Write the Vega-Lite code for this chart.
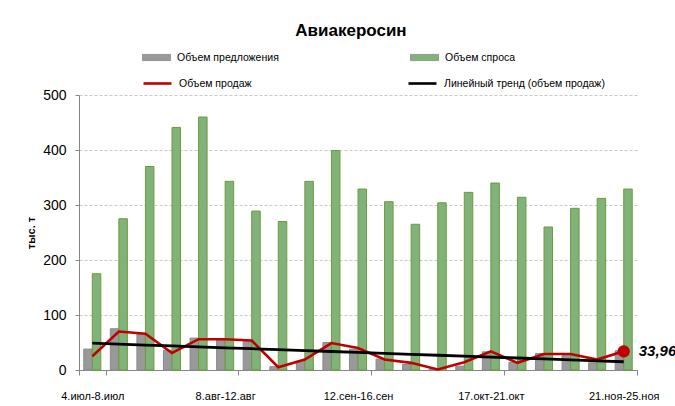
{
  "$schema": "https://vega.github.io/schema/vega-lite/v6.json",
  "width": 558,
  "height": 275,
  "autosize": {"type": "none"},
  "padding": {"left": 79, "top": 95, "right": 38, "bottom": 36},
  "background": "white",
  "title": {"text": "Авиакеросин", "font": "Liberation Sans", "fontSize": 17, "fontWeight": "bold", "color": "#000000", "anchor": "middle", "frame": "bounds", "offset": 3},
  "datasets": {
    "bars": [
      {"week": "4.июл-8.июл", "series": "Объем предложения", "value": 38},
      {"week": "4.июл-8.июл", "series": "Объем спроса", "value": 175},
      {"week": "11.июл-15.июл", "series": "Объем предложения", "value": 75},
      {"week": "11.июл-15.июл", "series": "Объем спроса", "value": 275},
      {"week": "18.июл-22.июл", "series": "Объем предложения", "value": 65},
      {"week": "18.июл-22.июл", "series": "Объем спроса", "value": 370},
      {"week": "25.июл-29.июл", "series": "Объем предложения", "value": 36},
      {"week": "25.июл-29.июл", "series": "Объем спроса", "value": 441},
      {"week": "1.авг-5.авг", "series": "Объем предложения", "value": 58},
      {"week": "1.авг-5.авг", "series": "Объем спроса", "value": 460},
      {"week": "8.авг-12.авг", "series": "Объем предложения", "value": 55},
      {"week": "8.авг-12.авг", "series": "Объем спроса", "value": 343},
      {"week": "15.авг-19.авг", "series": "Объем предложения", "value": 52},
      {"week": "15.авг-19.авг", "series": "Объем спроса", "value": 289},
      {"week": "22.авг-26.авг", "series": "Объем предложения", "value": 6},
      {"week": "22.авг-26.авг", "series": "Объем спроса", "value": 270},
      {"week": "29.авг-2.сен", "series": "Объем предложения", "value": 16},
      {"week": "29.авг-2.сен", "series": "Объем спроса", "value": 343},
      {"week": "5.сен-9.сен", "series": "Объем предложения", "value": 50},
      {"week": "5.сен-9.сен", "series": "Объем спроса", "value": 399},
      {"week": "12.сен-16.сен", "series": "Объем предложения", "value": 38},
      {"week": "12.сен-16.сен", "series": "Объем спроса", "value": 329},
      {"week": "19.сен-23.сен", "series": "Объем предложения", "value": 20},
      {"week": "19.сен-23.сен", "series": "Объем спроса", "value": 306},
      {"week": "26.сен-30.сен", "series": "Объем предложения", "value": 10},
      {"week": "26.сен-30.сен", "series": "Объем спроса", "value": 265},
      {"week": "3.окт-7.окт", "series": "Объем предложения", "value": 2},
      {"week": "3.окт-7.окт", "series": "Объем спроса", "value": 304},
      {"week": "10.окт-14.окт", "series": "Объем предложения", "value": 7},
      {"week": "10.окт-14.окт", "series": "Объем спроса", "value": 323},
      {"week": "17.окт-21.окт", "series": "Объем предложения", "value": 33},
      {"week": "17.окт-21.окт", "series": "Объем спроса", "value": 340},
      {"week": "24.окт-28.окт", "series": "Объем предложения", "value": 14},
      {"week": "24.окт-28.окт", "series": "Объем спроса", "value": 314},
      {"week": "31.окт-4.ноя", "series": "Объем предложения", "value": 30},
      {"week": "31.окт-4.ноя", "series": "Объем спроса", "value": 260},
      {"week": "7.ноя-11.ноя", "series": "Объем предложения", "value": 26},
      {"week": "7.ноя-11.ноя", "series": "Объем спроса", "value": 294},
      {"week": "14.ноя-18.ноя", "series": "Объем предложения", "value": 13},
      {"week": "14.ноя-18.ноя", "series": "Объем спроса", "value": 312},
      {"week": "21.ноя-25.ноя", "series": "Объем предложения", "value": 35},
      {"week": "21.ноя-25.ноя", "series": "Объем спроса", "value": 329}
    ],
    "sales": [
      {"week": "4.июл-8.июл", "sales": 25, "trend": 48.8},
      {"week": "11.июл-15.июл", "sales": 70, "trend": 47.1},
      {"week": "18.июл-22.июл", "sales": 66, "trend": 45.4},
      {"week": "25.июл-29.июл", "sales": 31, "trend": 43.7},
      {"week": "1.авг-5.авг", "sales": 56, "trend": 42.0},
      {"week": "8.авг-12.авг", "sales": 56, "trend": 40.4},
      {"week": "15.авг-19.авг", "sales": 53.6, "trend": 38.7},
      {"week": "22.авг-26.авг", "sales": 5, "trend": 37.0},
      {"week": "29.авг-2.сен", "sales": 19, "trend": 35.3},
      {"week": "5.сен-9.сен", "sales": 49, "trend": 33.6},
      {"week": "12.сен-16.сен", "sales": 40, "trend": 31.9},
      {"week": "19.сен-23.сен", "sales": 19, "trend": 30.2},
      {"week": "26.сен-30.сен", "sales": 13, "trend": 28.5},
      {"week": "3.окт-7.окт", "sales": 1, "trend": 26.8},
      {"week": "10.окт-14.окт", "sales": 14, "trend": 25.1},
      {"week": "17.окт-21.окт", "sales": 34, "trend": 23.5},
      {"week": "24.окт-28.окт", "sales": 13, "trend": 21.8},
      {"week": "31.окт-4.ноя", "sales": 29, "trend": 20.1},
      {"week": "7.ноя-11.ноя", "sales": 29, "trend": 18.4},
      {"week": "14.ноя-18.ноя", "sales": 19, "trend": 16.7},
      {"week": "21.ноя-25.ноя", "sales": 33.96, "trend": 15.0, "label": "33,96"}
    ]
  },
  "layer": [
    {
      "data": {"name": "bars"},
      "mark": {"type": "bar", "strokeWidth": 1},
      "encoding": {
        "x": {
          "field": "week", "type": "nominal",
          "scale": {"domain": ["4.июл-8.июл","11.июл-15.июл","18.июл-22.июл","25.июл-29.июл","1.авг-5.авг","8.авг-12.авг","15.авг-19.авг","22.авг-26.авг","29.авг-2.сен","5.сен-9.сен","12.сен-16.сен","19.сен-23.сен","26.сен-30.сен","3.окт-7.окт","10.окт-14.окт","17.окт-21.окт","24.окт-28.окт","31.окт-4.ноя","7.ноя-11.ноя","14.ноя-18.ноя","21.ноя-25.ноя"], "paddingInner": 0, "paddingOuter": 0},
          "axis": {"title": null, "values": ["4.июл-8.июл","8.авг-12.авг","12.сен-16.сен","17.окт-21.окт","21.ноя-25.ноя"], "tickBand": "extent", "labelAngle": 0, "labelFont": "Liberation Sans", "labelFontSize": 11, "labelColor": "#000000", "labelPadding": 15, "tickSize": 5, "tickColor": "#868686", "domainColor": "#868686", "grid": false}
        },
        "xOffset": {"field": "series", "type": "nominal", "sort": ["Объем предложения", "Объем спроса"], "scale": {"paddingInner": 0, "paddingOuter": 0.56}},
        "y": {
          "field": "value", "type": "quantitative",
          "scale": {"domain": [0, 500], "nice": false},
          "axis": {"title": "тыс. т", "values": [0,100,200,300,400,500], "titleFont": "Liberation Sans", "titleFontSize": 11, "titleFontWeight": "bold", "titleColor": "#000000", "titlePadding": 6, "labelFont": "Liberation Sans", "labelFontSize": 14, "labelColor": "#000000", "labelPadding": 9, "tickSize": 4, "tickColor": "#868686", "domainColor": "#868686", "gridColor": "#c8c8c8", "gridDash": [3, 2]}
        },
        "fill": {
          "field": "series", "type": "nominal",
          "scale": {"domain": ["Объем предложения", "Объем спроса"], "range": ["#999999", "#80B27A"]},
          "legend": {"orient": "none", "legendX": 63, "legendY": -52, "direction": "horizontal", "columns": 2, "columnPadding": 129, "title": null, "padding": 0, "symbolType": "M-1,-0.22H1V0.22H-1Z", "symbolSize": 784, "symbolStrokeWidth": 0.8, "labelFont": "Liberation Sans", "labelFontSize": 10.5, "labelColor": "#000000", "labelOffset": 6, "labelLimit": 300}
        },
        "stroke": {"condition": {"test": "datum.series === 'Объем спроса'", "value": "#6E9B3A"}, "value": "#8A8A8A"}
      }
    },
    {
      "data": {"name": "sales"},
      "mark": {"type": "line", "strokeWidth": 2.6},
      "encoding": {
        "x": {"field": "week", "type": "nominal"},
        "y": {"field": "sales", "type": "quantitative", "title": "тыс. т"},
        "stroke": {
          "datum": "Объем продаж", "type": "nominal",
          "scale": {"domain": ["Объем продаж", "Линейный тренд (объем продаж)"], "range": ["#C00000", "#000000"]},
          "legend": {"orient": "none", "legendX": 63, "legendY": -27, "direction": "horizontal", "columns": 2, "columnPadding": 151, "title": null, "padding": 0, "symbolType": "stroke", "symbolSize": 784, "symbolStrokeWidth": 2.6, "labelFont": "Liberation Sans", "labelFontSize": 10.5, "labelColor": "#000000", "labelOffset": 6, "labelLimit": 300}
        }
      }
    },
    {
      "data": {"name": "sales"},
      "mark": {"type": "line", "strokeWidth": 2.8},
      "encoding": {
        "x": {"field": "week", "type": "nominal"},
        "y": {"field": "trend", "type": "quantitative", "title": "тыс. т"},
        "stroke": {"datum": "Линейный тренд (объем продаж)", "type": "nominal"}
      }
    },
    {
      "data": {"name": "sales"},
      "transform": [{"filter": "datum.label != null"}],
      "mark": {"type": "circle", "size": 150, "color": "#C00000", "opacity": 1},
      "encoding": {
        "x": {"field": "week", "type": "nominal"},
        "y": {"field": "sales", "type": "quantitative", "title": "тыс. т"}
      }
    },
    {
      "data": {"name": "sales"},
      "transform": [{"filter": "datum.label != null"}],
      "mark": {"type": "text", "align": "left", "baseline": "middle", "dx": 15, "font": "Liberation Sans", "fontSize": 15, "fontWeight": "bold", "fontStyle": "italic", "color": "#000000"},
      "encoding": {
        "x": {"field": "week", "type": "nominal"},
        "y": {"field": "sales", "type": "quantitative", "title": "тыс. т"},
        "text": {"field": "label", "type": "nominal"}
      }
    }
  ],
  "config": {"view": {"stroke": null}}
}
